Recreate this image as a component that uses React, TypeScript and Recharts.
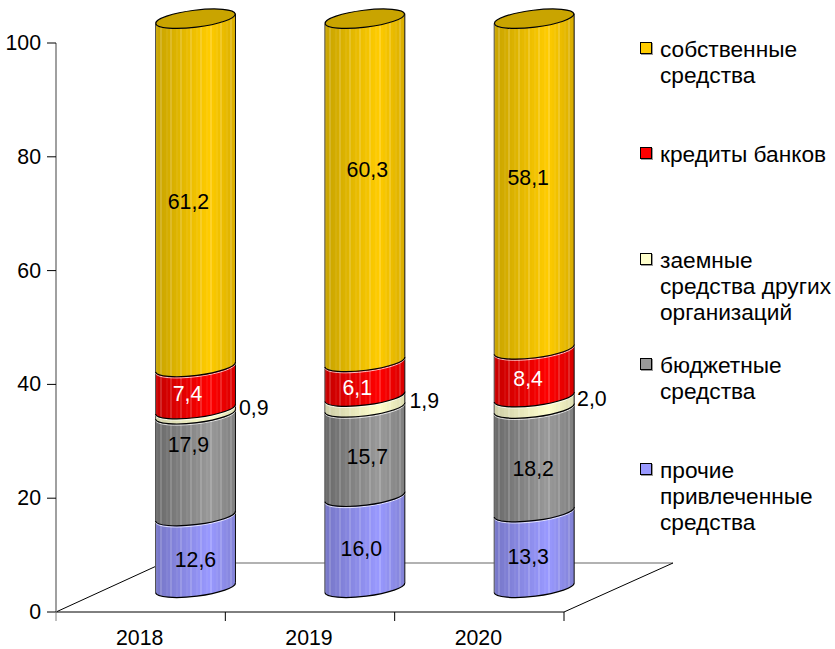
import { BarChart, Bar, XAxis, YAxis, LabelList, Customized } from "recharts";

const years = ["2018", "2019", "2020"];
const otherFunds = [12.6, 16.0, 13.3];
const budgetFunds = [17.9, 15.7, 18.2];
const loans = [0.9, 1.9, 2.0];
const bankCredits = [7.4, 6.1, 8.4];
const ownFunds = [61.2, 60.3, 58.1];
const yTicks = [0, 20, 40, 60, 80, 100];

const data = years.map((year, i) => ({
  year,
  other: otherFunds[i],
  budget: budgetFunds[i],
  loans: loans[i],
  credits: bankCredits[i],
  own: ownFunds[i],
}));

const FONT = "'Liberation Sans', Arial, sans-serif";
const WIDTH = 835;
const HEIGHT = 649;
const LEFT = 56;
const RIGHT = 564;
const TOP = 43;
const BOTTOM = 612;

// the 3D look: bars stand in the middle of the floor, not on the front edge
const DEPTH_X = 54.5;
const DEPTH_Y = -24.3;
const TILT = 5;
const RY = 8.5;

// [from, mid, to] shades
const palettes: Record<string, string[]> = {
  own: ["#c9a400", "#ffcc00", "#d9ae00"],
  credits: ["#c80000", "#ff0000", "#d90000"],
  loans: ["#cfcfa8", "#ffffcc", "#dcdcb0"],
  budget: ["#6b6b6b", "#999999", "#808080"],
  other: ["#7777c8", "#9999ff", "#8282d6"],
};

// the original's labels were placed by hand, so each one is nudged from its segment's middle
const labelNudges: Record<string, number[][]> = {
  other: [[0, 8], [-3.5, 7], [-6, 7]],
  budget: [[-7, -20], [2.5, 5], [-1, 9]],
  loans: [[58.3, -3.6], [59.5, -1], [57.7, -4]],
  credits: [[-8, 6], [-7.5, 9], [-6, 6]],
  own: [[-7, 9], [2.5, -20], [-6, -6]],
};

function stripes(key: string) {
  const [a, b, c] = palettes[key];
  const stops = [];
  const n = 40;
  const peak = 0.68;
  for (let i = 0; i < n; i++) {
    const t = i / (n - 1);
    const from = t < peak ? a : b;
    const to = t < peak ? b : c;
    const k = t < peak ? t / peak : (t - peak) / (1 - peak);
    const light = i % 5 === 2 ? 0.16 : i % 5 === 0 ? 0.05 : 0; // thin pale facets
    const mix = (p: number) => {
      const x = parseInt(from.slice(p, p + 2), 16);
      const y = parseInt(to.slice(p, p + 2), 16);
      const v = x + (y - x) * k;
      return Math.round(v + (255 - v) * light).toString(16).padStart(2, "0");
    };
    const col = "#" + mix(1) + mix(3) + mix(5);
    stops.push(<stop key={i + "a"} offset={i / n} stopColor={col} />);
    stops.push(<stop key={i + "b"} offset={(i + 1) / n} stopColor={col} />);
  }
  return (
    <linearGradient key={key} id={"grad-" + key} x1="0" y1="0" x2="1" y2="0">
      {stops}
    </linearGradient>
  );
}

function Cylinder(props: any) {
  const { x, y, width, height, seriesKey, isTop } = props;
  const l = x + DEPTH_X;
  const r = l + width;
  const top = y + DEPTH_Y;
  const bot = top + height;
  const rx = width / 2;
  const arc = (to: number, yy: number, sweep: number) => `A${rx} ${RY} -7 0 ${sweep} ${to} ${yy}`;
  const body =
    `M${l} ${top + TILT}` +
    `L${l} ${bot + TILT}` +
    arc(r, bot - TILT, 0) +
    `L${r} ${top - TILT}` +
    arc(l, top + TILT, 1) +
    "Z";
  return (
    <g>
      <path d={body} fill={`url(#grad-${seriesKey})`} stroke="none" />
      <path d={`M${l} ${bot + TILT}L${l} ${top + TILT}`} fill="none" stroke="#555" strokeWidth={1} />
      <path d={`M${r} ${top - TILT}L${r} ${bot - TILT}`} fill="none" stroke="#111" strokeWidth={1} />
      <path
        d={`M${l} ${bot + TILT + 1.2}` + arc(r, bot - TILT + 1.2, 0)}
        fill="none"
        stroke="#fff"
        strokeWidth={1}
        strokeOpacity={0.75}
      />
      <path
        d={`M${l} ${bot + TILT}` + arc(r, bot - TILT, 0)}
        fill="none"
        stroke="#000"
        strokeWidth={1.2}
      />
      {isTop && (
        <ellipse
          cx={(l + r) / 2}
          cy={top}
          rx={rx}
          ry={RY}
          transform={`rotate(-7 ${(l + r) / 2} ${top})`}
          fill="#c9a400"
          stroke="#000"
          strokeWidth={1.2}
        />
      )}
    </g>
  );
}

function SegmentLabel(props: any) {
  const { x, y, width, height, value, color, index, seriesKey } = props;
  const [dx, dy] = labelNudges[seriesKey][index];
  return (
    <text
      x={x + DEPTH_X + width / 2 + dx}
      y={y + DEPTH_Y + height / 2 + dy}
      textAnchor="middle"
      dominantBaseline="central"
      fontFamily={FONT}
      fontSize={21.3}
      fill={color}
    >
      {value.toFixed(1).replace(".", ",")}
    </text>
  );
}

function Floor() {
  return (
    <g>
      <defs>{Object.keys(palettes).map((k) => stripes(k))}</defs>
      <line x1={LEFT} y1={BOTTOM} x2={163} y2={563} stroke="#000" />
      <line x1={163} y1={563} x2={673} y2={563} stroke="#666" strokeWidth={1.2} />
      <line x1={673} y1={563} x2={RIGHT} y2={BOTTOM} stroke="#000" />
    </g>
  );
}

function YearTick(props: any) {
  const { x, y, payload } = props;
  const half = (RIGHT - LEFT) / years.length / 2;
  return (
    <g>
      <line x1={x + half} y1={BOTTOM} x2={x + half} y2={BOTTOM + 9} stroke="#000" />
      {payload.index === 0 && (
        <line x1={x - half} y1={BOTTOM} x2={x - half} y2={BOTTOM + 9} stroke="#808080" />
      )}
      <text x={x - 1} y={y + 25} textAnchor="middle" fontFamily={FONT} fontSize={21.3} fill="#000">
        {payload.value}
      </text>
    </g>
  );
}

function ValueTick(props: any) {
  const { x, y, payload } = props;
  return (
    <text x={x - 4} y={y} textAnchor="end" dominantBaseline="central" fontFamily={FONT} fontSize={21.3} fill="#000">
      {payload.value}
    </text>
  );
}

const legendEntries = [
  { key: "own", lines: ["собственные", "средства"], top: 36 },
  { key: "credits", lines: ["кредиты банков"], top: 141 },
  { key: "loans", lines: ["заемные", "средства других", "организаций"], top: 247 },
  { key: "budget", lines: ["бюджетные", "средства"], top: 352 },
  { key: "other", lines: ["прочие", "привлеченные", "средства"], top: 457 },
];

function LegendBox() {
  return (
    <div style={{ position: "absolute", left: 0, top: 0, fontFamily: FONT, fontSize: 22.7 }}>
      {legendEntries.map((e) => (
        <div key={e.key} style={{ position: "absolute", left: 660, top: e.top, lineHeight: "26px", whiteSpace: "nowrap", color: "#000" }}>
          <span
            style={{
              position: "absolute",
              left: -20,
              top: 6,
              width: 10,
              height: 10,
              background: palettes[e.key][1],
              border: "1px solid #000",
              boxShadow: "1px 1px 0 #999",
            }}
          />
          {e.lines.map((line) => (
            <div key={line}>{line}</div>
          ))}
        </div>
      ))}
    </div>
  );
}

const series = [
  { key: "other", name: "прочие привлеченные средства", label: "#000" },
  { key: "budget", name: "бюджетные средства", label: "#000" },
  { key: "loans", name: "заемные средства других организаций", label: "#000" },
  { key: "credits", name: "кредиты банков", label: "#fff" },
  { key: "own", name: "собственные средства", label: "#000" },
];

export default function App() {
  return (
    <div style={{ position: "absolute", left: 0, top: 0, width: WIDTH, height: HEIGHT }}>
      <BarChart
        width={WIDTH}
        height={HEIGHT}
        data={data}
        barSize={80}
        margin={{ top: TOP, right: WIDTH - RIGHT, bottom: 0, left: 0 }}
      >
        <Customized component={Floor} />
        <XAxis
          dataKey="year"
          axisLine={{ stroke: "#000" }}
          tickLine={false}
          tick={<YearTick />}
          height={HEIGHT - BOTTOM}
        />
        <YAxis
          domain={[0, 100]}
          ticks={yTicks}
          width={LEFT}
          axisLine={{ stroke: "#808080", strokeWidth: 1.5 }}
          tickLine={{ stroke: "#000" }}
          tickSize={9}
          tick={<ValueTick />}
        />
        {series.map((s) => (
          <Bar
            key={s.key}
            dataKey={s.key}
            name={s.name}
            stackId="a"
            isAnimationActive={false}
            shape={<Cylinder seriesKey={s.key} isTop={s.key === "own"} />}
          >
            <LabelList dataKey={s.key} content={<SegmentLabel color={s.label} seriesKey={s.key} />} />
          </Bar>
        ))}
      </BarChart>
      <LegendBox />
    </div>
  );
}
